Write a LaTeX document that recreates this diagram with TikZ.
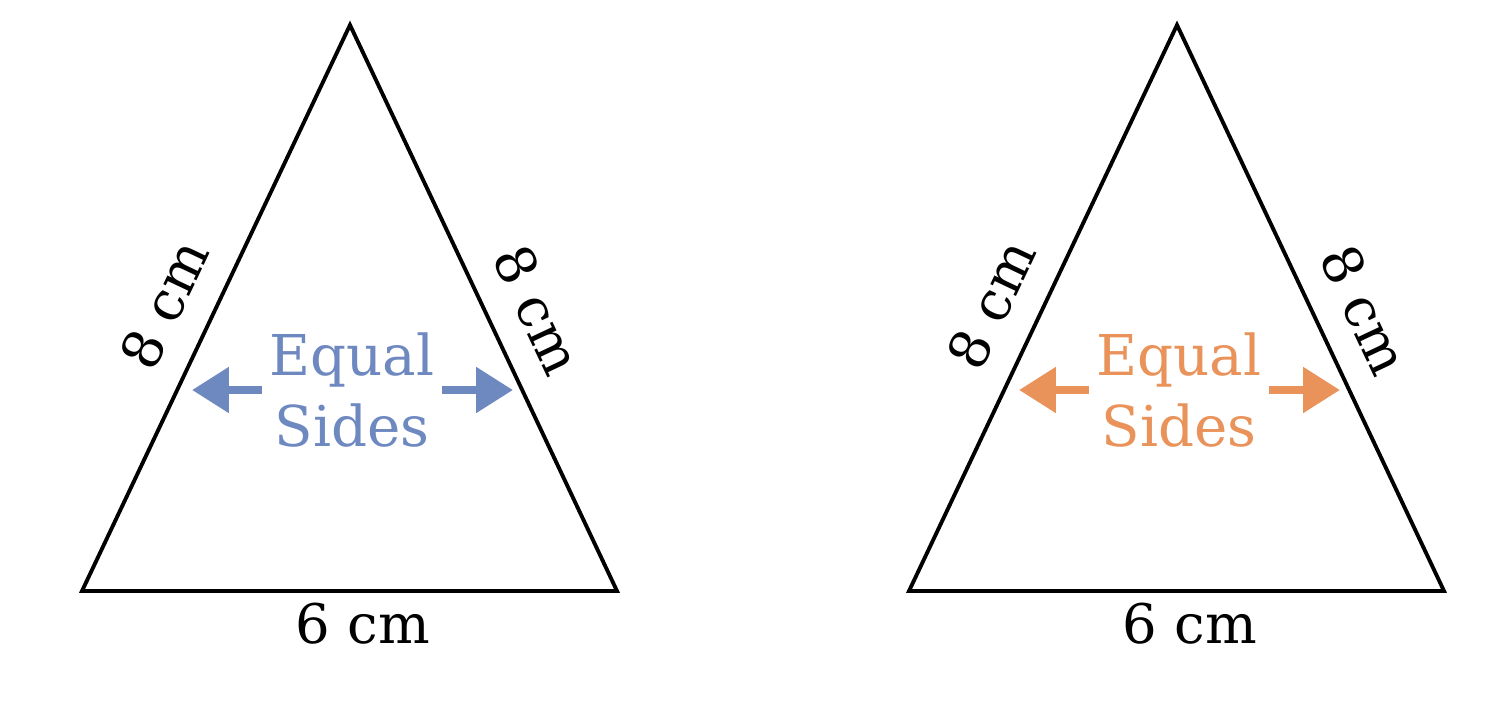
\documentclass[tikz,border=0pt]{standalone}
\usepackage{fontspec}
\setmainfont{DejaVu Serif}
\usetikzlibrary{calc}
\usetikzlibrary{arrows.meta}
\definecolor{eqblue}{RGB}{110,136,192}
\definecolor{eqorange}{RGB}{233,146,90}

\begin{document}
\begin{tikzpicture}[x=0.01cm, y=-0.01cm, font=\fontsize{15.5}{20}\selectfont]
\useasboundingbox (0,0) rectangle (1488,715);
\foreach \dx/\col in {0/eqblue, 827/eqorange} {
 \coordinate (top\dx) at (350+\dx,25);
 \coordinate (bl\dx) at (82+\dx,591);
 \coordinate (br\dx) at (617+\dx,591);
 \draw[black, line width=1.1pt] (bl\dx) -- (top\dx) node[pos=0.47, sloped, above=4pt]{8 cm}
   -- (br\dx) node[pos=0.54, sloped, above=4pt]{8 cm} -- cycle;
 \node[below] (base\dx) at ($(bl\dx)!0.525!(br\dx)$) {6 cm};
 \node[text=\col, align=center, inner sep=2pt, font=\fontsize{16}{20}\selectfont] (eq\dx) at (352+\dx,390) {Equal\\Sides};
 \coordinate (tipl\dx) at (192+\dx,390);
 \coordinate (tipr\dx) at (513+\dx,390);
 \draw[\col, line width=2.4pt, -{Triangle[length=10.5pt, width=12.5pt]}] (eq\dx) -- (tipl\dx);
 \draw[\col, line width=2.4pt, -{Triangle[length=10.5pt, width=12.5pt]}] (eq\dx) -- (tipr\dx);
}
\end{tikzpicture}
\end{document}
